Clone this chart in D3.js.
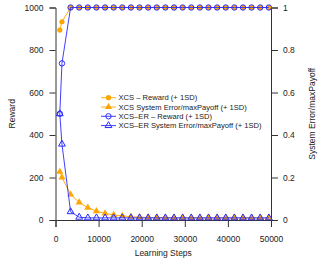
<!DOCTYPE html>
<html>
<head>
<meta charset="utf-8">
<script src="https://cdn.jsdelivr.net/npm/d3@7"></script>
<style>
  body { margin: 0; background: #fff; }
  svg { display: block; font-family: "Liberation Sans", Arial, sans-serif; }
</style>
</head>
<body>
<div id="chart"></div>
<script>
const steps = [1000, 1500, 3500, 5500, 7500, 9500, 11500, 13500, 15500, 17500, 19500, 21500,
  23500, 25500, 27500, 29500, 31500, 33500, 35500, 37500, 39500, 41500, 43500, 45500, 47500, 49500];
const xcsReward = [894, 933, 1000, 1000, 1000, 1000, 1000, 1000, 1000, 1000, 1000, 1000,
  1000, 1000, 1000, 1000, 1000, 1000, 1000, 1000, 1000, 1000, 1000, 1000, 1000, 1000];
const xcsError = [0.227, 0.2, 0.12, 0.083, 0.058, 0.042, 0.031, 0.024, 0.019, 0.016, 0.013, 0.012,
  0.011, 0.011, 0.01, 0.01, 0.01, 0.01, 0.01, 0.01, 0.01, 0.01, 0.01, 0.01, 0.01, 0.01];
const erReward = [500, 737, 1000, 1000, 1000, 1000, 1000, 1000, 1000, 1000, 1000, 1000,
  1000, 1000, 1000, 1000, 1000, 1000, 1000, 1000, 1000, 1000, 1000, 1000, 1000, 1000];
const erError = [0.5, 0.357, 0.039, 0.013, 0.01, 0.01, 0.01, 0.01, 0.01, 0.01, 0.01, 0.01,
  0.01, 0.01, 0.01, 0.01, 0.01, 0.01, 0.01, 0.01, 0.01, 0.01, 0.01, 0.01, 0.01, 0.01];
const xTicks = [0, 10000, 20000, 30000, 40000, 50000];
const leftTicks = [0, 200, 400, 600, 800, 1000];
const rightTicks = [0, 0.2, 0.4, 0.6, 0.8, 1];
const legendLabels = [
  "XCS \u2013 Reward (+ 1SD)",
  "XCS System Error/maxPayoff (+ 1SD)",
  "XCS\u2013ER \u2013 Reward (+ 1SD)",
  "XCS\u2013ER System Error/maxPayoff (+ 1SD)"
];

const width = 325;
const height = 260;
const margin = { top: 7.5, right: 54, bottom: 40, left: 55.5 };
const orange = "#ffa500";
const blue = "#2a2aff";

const svg = d3.select("#chart").append("svg")
  .attr("width", width)
  .attr("height", height);

const x = d3.scaleLinear().domain([0, 50000]).range([margin.left, width - margin.right]);
const yL = d3.scaleLinear().domain([0, 1000]).range([height - margin.bottom, margin.top]);
const yR = d3.scaleLinear().domain([0, 1]).range([height - margin.bottom, margin.top]);

// axes
const styleAxis = (g) => {
  g.select(".domain").attr("stroke", "#333");
  g.selectAll(".tick line").attr("stroke", "#333");
  g.selectAll(".tick text").attr("fill", "#222").style("font-size", "8.5px");
};

svg.append("g")
  .attr("transform", `translate(0,${height - margin.bottom})`)
  .call(d3.axisBottom(x).tickValues(xTicks).tickFormat(d3.format("d")).tickSizeOuter(0).tickSize(7).tickPadding(9))
  .call(styleAxis);

svg.append("g")
  .attr("transform", `translate(${margin.left},0)`)
  .call(d3.axisLeft(yL).tickValues(leftTicks).tickFormat(d3.format("d")).tickSizeOuter(0).tickSize(6).tickPadding(6))
  .call(styleAxis);

svg.append("g")
  .attr("transform", `translate(${width - margin.right},0)`)
  .call(d3.axisRight(yR).tickValues(rightTicks).tickFormat(d3.format("~g")).tickSizeOuter(0).tickSize(7).tickPadding(5))
  .call(styleAxis);

svg.selectAll(".domain").attr("fill", "none");

// titles
svg.append("text")
  .attr("x", (margin.left + width - margin.right) / 2)
  .attr("y", 256)
  .attr("text-anchor", "middle")
  .style("font-size", "8.5px")
  .attr("fill", "#222")
  .text("Learning Steps");

svg.append("text")
  .attr("transform", `translate(15,${(yL(0) + yL(1000)) / 2}) rotate(-90)`)
  .attr("text-anchor", "middle")
  .style("font-size", "8.5px")
  .attr("fill", "#222")
  .text("Reward");

svg.append("text")
  .attr("transform", `translate(315,${(yL(0) + yL(1000)) / 2}) rotate(-90)`)
  .attr("text-anchor", "middle")
  .style("font-size", "8.5px")
  .attr("fill", "#222")
  .text("System Error/maxPayoff");

// series
const series = [
  { vals: xcsReward, y: yL, color: orange, shape: "circle", filled: true },
  { vals: xcsError, y: yR, color: orange, shape: "triangle", filled: true },
  { vals: erReward, y: yL, color: blue, shape: "circle", filled: false },
  { vals: erError, y: yR, color: blue, shape: "triangle", filled: false }
];

const triangle = d3.symbol().type(d3.symbolTriangle).size(22);
const triangleOpen = d3.symbol().type(d3.symbolTriangle).size(20);

const drawMarker = (g, s, cx, cy) => {
  if (s.shape === "circle") {
    g.append("circle")
      .attr("cx", cx).attr("cy", cy)
      .attr("r", s.filled ? 2.6 : 2.7)
      .attr("fill", s.filled ? s.color : "none")
      .attr("stroke", s.filled ? "none" : s.color)
      .attr("stroke-width", 1);
  } else {
    g.append("path")
      .attr("d", s.filled ? triangle() : triangleOpen())
      .attr("transform", `translate(${cx},${cy})`)
      .attr("fill", s.filled ? s.color : "none")
      .attr("stroke", s.filled ? "none" : s.color)
      .attr("stroke-width", 1);
  }
};

series.forEach((s) => {
  const line = d3.line()
    .x((d, i) => x(steps[i]))
    .y((d) => s.y(d));
  svg.append("path")
    .datum(s.vals)
    .attr("d", line)
    .attr("fill", "none")
    .attr("stroke", s.color)
    .attr("stroke-width", 0.9);
  const g = svg.append("g");
  s.vals.forEach((v, i) => drawMarker(g, s, x(steps[i]), s.y(v)));
});

// legend
const legend = svg.append("g");
legendLabels.forEach((label, i) => {
  const s = series[i];
  const ly = 97.7 + i * 9.3;
  legend.append("line")
    .attr("x1", 101).attr("x2", 116)
    .attr("y1", ly).attr("y2", ly)
    .attr("stroke", s.color)
    .attr("stroke-width", 0.9);
  drawMarker(legend, s, 108.5, ly);
  legend.append("text")
    .attr("x", 118.5)
    .attr("y", ly + 2.6)
    .style("font-size", "7.6px")
    .attr("fill", "#222")
    .text(label);
});
</script>
</body>
</html>
